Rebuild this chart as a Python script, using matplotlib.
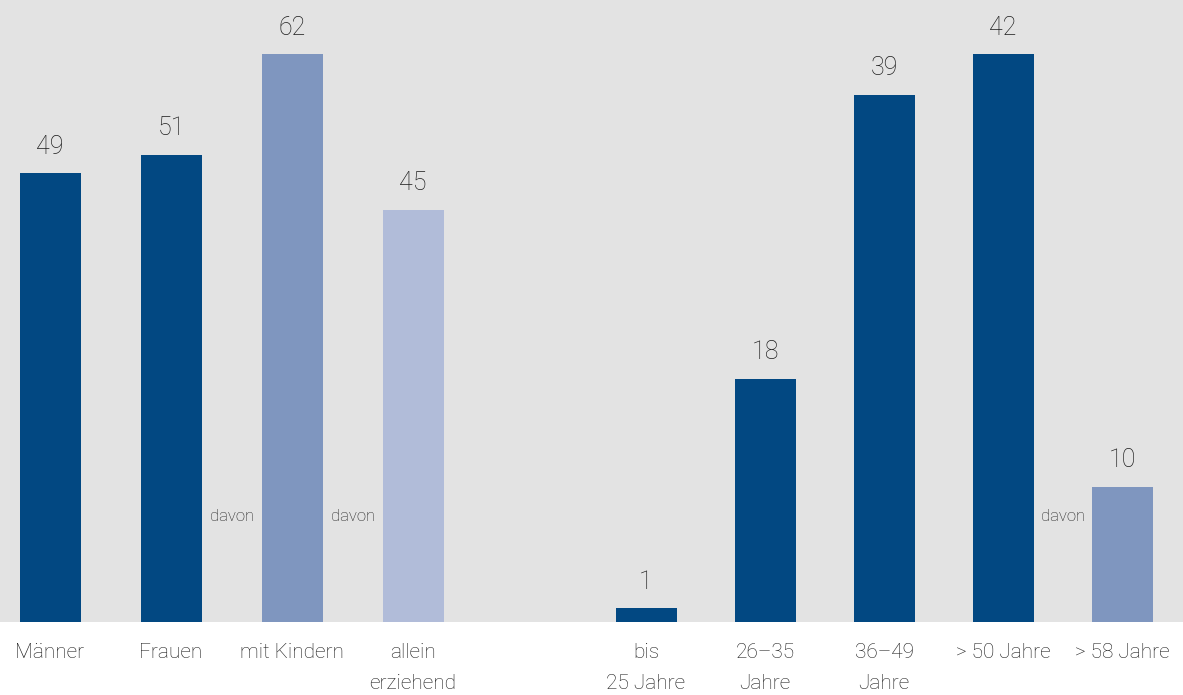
import numpy as np
import matplotlib.pyplot as plt

# Gender / family status group
left_labels = ["Männer", "Frauen", "mit Kindern", "allein\nerziehend"]
left_values = [49, 51, 62, 45]
left_colors = ["#024882", "#024882", "#7f96bf", "#b1bcd9"]

# Age group
right_labels = ["bis\n25 Jahre", "26–35\nJahre", "36–49\nJahre", "> 50 Jahre", "> 58 Jahre"]
right_values = [1, 18, 39, 42, 10]
right_colors = ["#024882", "#024882", "#024882", "#024882", "#7f96bf"]

# "davon" notes sit in the gap before these bars
left_davon = [2, 3]
right_davon = [4]

plt.rcParams['font.family'] = ['Roboto', 'DejaVu Sans']
plt.rcParams['font.weight'] = 'light'
text_color = "#1c1c1c"
grey = "#e3e3e3"

fig = plt.figure(figsize=(11.83, 6.95), dpi=100)
fig.patch.set_facecolor("white")

W, H = 1183, 695
bottom = 73 / H
height = 622 / H
ax1 = fig.add_axes([0, bottom, 531 / W, height])
ax2 = fig.add_axes([531 / W, bottom, 652 / W, height])


def draw_group(ax, labels, values, colors, davon, xlim, ylim, width):
    x = np.arange(len(values))
    ax.set_facecolor(grey)
    ax.bar(x, values, width=width, color=colors)
    ax.set_xlim(*xlim)
    ax.set_ylim(0, ylim)
    for xi, v in zip(x, values):
        ax.annotate(str(v), (xi, v), xytext=(0, 14), textcoords="offset points",
                    ha="center", va="baseline", fontsize=18, color=text_color)
    for d in davon:
        ax.text(d - 0.5, 0.169, "davon", transform=ax.get_xaxis_transform(),
                ha="center", va="center", fontsize=12, color=text_color)
    ax.set_xticks(x)
    ax.set_xticklabels(labels, fontsize=15, color=text_color, linespacing=1.78)
    ax.tick_params(axis="x", length=0, pad=15)
    ax.set_yticks([])
    for s in ax.spines.values():
        s.set_visible(False)


draw_group(ax1, left_labels, left_values, left_colors, left_davon,
           (-50 / 121, 481 / 121), 67.9, 61 / 121)
draw_group(ax2, right_labels, right_values, right_colors, right_davon,
           (-115 / 119, 537 / 119), 46.0, 61 / 119)

fig.savefig("out.png", dpi=100, facecolor=fig.get_facecolor())
